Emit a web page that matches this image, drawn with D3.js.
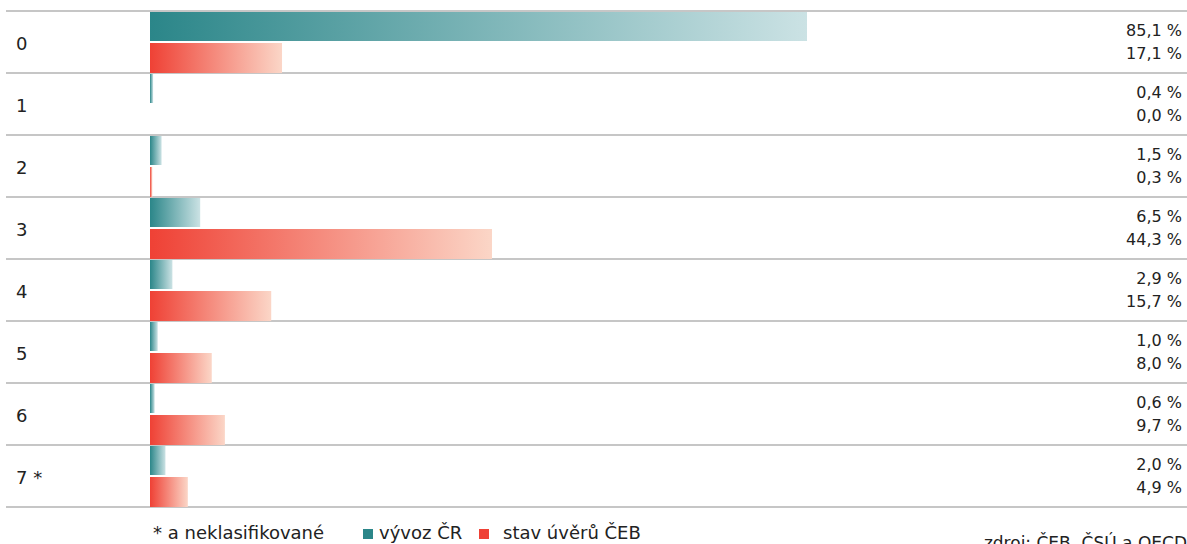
<!DOCTYPE html>
<html>
<head>
<meta charset="utf-8">
<script src="https://cdn.jsdelivr.net/npm/d3@7"></script>
<style>
  body { margin: 0; background: #fff; }
  svg { font-family: "DejaVu Sans", sans-serif; }
</style>
</head>
<body>
<div id="chart"></div>
<script>
const width = 1187, height = 544;

const categories = ["0", "1", "2", "3", "4", "5", "6", "7 *"];
const vyvoz = [85.1, 0.4, 1.5, 6.5, 2.9, 1.0, 0.6, 2.0];
const uvery = [17.1, 0.0, 0.3, 44.3, 15.7, 8.0, 9.7, 4.9];
const seriesNames = ["vývoz ČR", "stav úvěrů ČEB"];

const fmt = v => v.toFixed(1).replace(".", ",") + " %";

const svg = d3.select("#chart").append("svg")
    .attr("width", width)
    .attr("height", height);

const defs = svg.append("defs");
const gradTeal = defs.append("linearGradient").attr("id", "gTeal");
gradTeal.append("stop").attr("offset", "0%").attr("stop-color", "#2b8689");
gradTeal.append("stop").attr("offset", "100%").attr("stop-color", "#cbe2e4");
const gradRed = defs.append("linearGradient").attr("id", "gRed");
gradRed.append("stop").attr("offset", "0%").attr("stop-color", "#ef4135");
gradRed.append("stop").attr("offset", "100%").attr("stop-color", "#fbd6c7");

const y = d3.scaleBand().domain(categories).range([11, 507]).padding(0);
const x = d3.scaleLinear().domain([0, 85.1]).range([150, 807]);

// row separators
svg.selectAll("line.sep")
    .data(d3.range(categories.length + 1))
    .enter().append("line")
    .attr("class", "sep")
    .attr("x1", 6).attr("x2", width)
    .attr("y1", i => 11 + i * y.bandwidth())
    .attr("y2", i => 11 + i * y.bandwidth())
    .attr("stroke", "#b3b3b3")
    .attr("stroke-width", 1.5);

const half = y.bandwidth() / 2;

// teal bars
svg.selectAll("rect.vyvoz")
    .data(vyvoz)
    .enter().append("rect")
    .attr("class", "vyvoz")
    .attr("x", x(0))
    .attr("y", (d, i) => y(categories[i]) + 1)
    .attr("width", d => Math.max(0, x(d) - x(0)))
    .attr("height", half - 2)
    .attr("fill", "url(#gTeal)");

// red bars
svg.selectAll("rect.uvery")
    .data(uvery)
    .enter().append("rect")
    .attr("class", "uvery")
    .attr("x", x(0))
    .attr("y", (d, i) => y(categories[i]) + half + 1)
    .attr("width", d => Math.max(0, x(d) - x(0)))
    .attr("height", half - 1)
    .attr("fill", "url(#gRed)");

// category labels
svg.selectAll("text.cat")
    .data(categories)
    .enter().append("text")
    .attr("class", "cat")
    .attr("x", 16)
    .attr("y", d => y(d) + half + 8)
    .attr("font-size", 18)
    .attr("fill", "#222")
    .text(d => d);

// value labels
svg.selectAll("text.v1")
    .data(vyvoz)
    .enter().append("text")
    .attr("x", 1182)
    .attr("y", (d, i) => y(categories[i]) + 25)
    .attr("text-anchor", "end")
    .attr("font-size", 16)
    .attr("fill", "#222")
    .text(fmt);

svg.selectAll("text.v2")
    .data(uvery)
    .enter().append("text")
    .attr("x", 1182)
    .attr("y", (d, i) => y(categories[i]) + 48)
    .attr("text-anchor", "end")
    .attr("font-size", 16)
    .attr("fill", "#222")
    .text(fmt);

// legend
const lg = svg.append("g").attr("font-size", 18).attr("fill", "#222");
lg.append("text").attr("x", 153).attr("y", 539).text("* a neklasifikované");
lg.append("rect").attr("x", 363).attr("y", 529).attr("width", 10).attr("height", 10).attr("fill", "#2b8689");
lg.append("text").attr("x", 379).attr("y", 539).text(seriesNames[0]);
lg.append("rect").attr("x", 479).attr("y", 529).attr("width", 10).attr("height", 10).attr("fill", "#ef4135");
lg.append("text").attr("x", 503).attr("y", 539).text(seriesNames[1]);

svg.append("text")
    .attr("x", 1187).attr("y", 549)
    .attr("text-anchor", "end")
    .attr("font-size", 17)
    .attr("fill", "#222")
    .text("zdroj: ČEB, ČSÚ a OECD");
</script>
</body>
</html>
